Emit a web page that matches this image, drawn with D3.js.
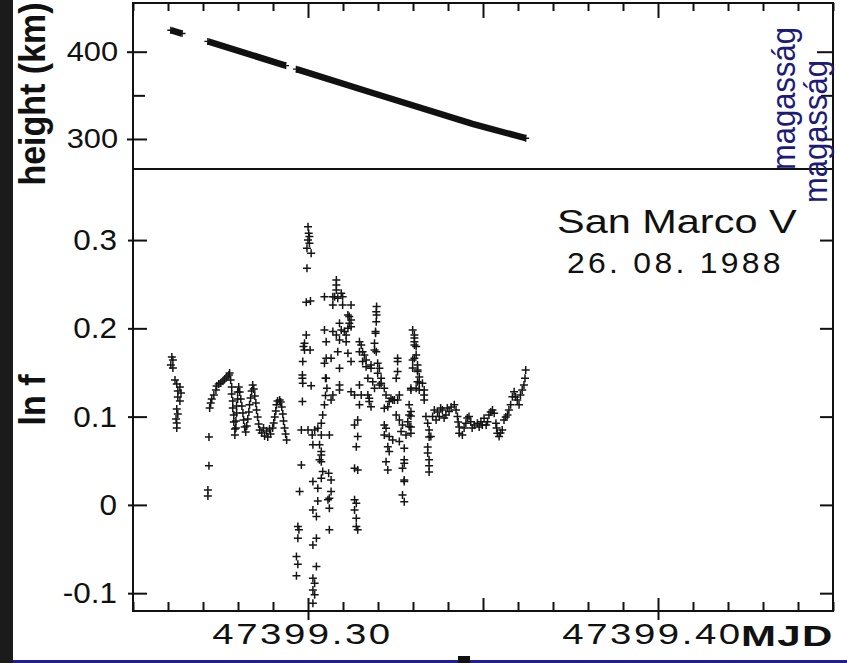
<!DOCTYPE html>
<html>
<head>
<meta charset="utf-8">
<script src="https://cdn.jsdelivr.net/npm/d3@7"></script>
<style>
  html, body { margin: 0; padding: 0; background: #fff; }
  svg { display: block; }
  text { font-family: "Liberation Sans", Arial, Helvetica, sans-serif; fill: #111; }
</style>
</head>
<body>
<svg id="chart" width="847" height="663"></svg>
<script>
// ---- data ---------------------------------------------------------------
// time axis (MJD) labels and axis tick values
const timeLabels = [47399.30, 47399.40];
const heightMajorTicks = [300, 400];
const heightMinorTicks = [350];
const lnfTicks = [-0.1, 0, 0.1, 0.2, 0.3];

// satellite height along the pass (null separates data gaps)
const heightMJD = [47399.2608, 47399.2640, null, 47399.2714, 47399.2936, null,
                   47399.2967, 47399.3185, 47399.3470, 47399.3622];
const heightKm  = [424.6, 420.8, null, 411.8, 384.1, null,
                   380.0, 352.7, 317.2, 300.9];

// ln f samples: [MJD, ln f]
const lnfSamples = [
  // first burst
  [47399.2611,0.1676],[47399.2614,0.1642],[47399.2608,0.1586],[47399.2614,0.1552],
  [47399.2620,0.1416],[47399.2625,0.1370],[47399.2634,0.1336],[47399.2628,0.1291],
  [47399.2637,0.1268],[47399.2628,0.1223],[47399.2634,0.1178],[47399.2625,0.1087],
  [47399.2628,0.1031],[47399.2623,0.0974],[47399.2625,0.0929],[47399.2625,0.0872],
  [47399.2717,0.0770],[47399.2717,0.0442],[47399.2714,0.0170],[47399.2714,0.0102],
  // oscillating stretch
  [47399.2719,0.1099],[47399.2722,0.1155],[47399.2725,0.1200],[47399.2731,0.1246],
  [47399.2737,0.1302],[47399.2739,0.1348],[47399.2745,0.1370],[47399.2751,0.1382],
  [47399.2757,0.1404],[47399.2762,0.1427],[47399.2768,0.1450],[47399.2774,0.1472],
  [47399.2776,0.1495],
  [47399.2779,0.1416],[47399.2782,0.1336],[47399.2782,0.1257],[47399.2785,0.1178],
  [47399.2785,0.1099],[47399.2788,0.1019],[47399.2788,0.0940],[47399.2791,0.0861],
  [47399.2791,0.0793],
  [47399.2794,0.0872],[47399.2794,0.0951],[47399.2796,0.1042],[47399.2796,0.1121],
  [47399.2799,0.1200],[47399.2799,0.1280],[47399.2802,0.1336],
  [47399.2805,0.1280],[47399.2808,0.1200],[47399.2811,0.1121],[47399.2814,0.1042],
  [47399.2816,0.0963],[47399.2819,0.0883],[47399.2822,0.0827],
  [47399.2825,0.0895],[47399.2828,0.0974],[47399.2831,0.1053],[47399.2833,0.1133],
  [47399.2836,0.1212],[47399.2839,0.1291],[47399.2842,0.1359],
  [47399.2845,0.1314],[47399.2848,0.1234],[47399.2851,0.1155],[47399.2853,0.1076],
  [47399.2856,0.0997],[47399.2859,0.0917],[47399.2862,0.0849],
  [47399.2868,0.0815],[47399.2873,0.0872],[47399.2876,0.0781],[47399.2882,0.0838],
  [47399.2885,0.0770],[47399.2890,0.0861],[47399.2893,0.0804],[47399.2899,0.0872],
  [47399.2902,0.0929],
  [47399.2905,0.0997],[47399.2908,0.1065],[47399.2910,0.1133],[47399.2913,0.1178],
  [47399.2919,0.1189],[47399.2922,0.1166],
  [47399.2925,0.1110],[47399.2928,0.1031],[47399.2930,0.0951],[47399.2933,0.0872],
  [47399.2936,0.0804],[47399.2939,0.0736],
  // disturbed stretch
  [47399.3000,0.3152],[47399.3002,0.3077],[47399.3004,0.3039],[47399.3000,0.3001],
  [47399.3004,0.2964],[47399.2997,0.2907],[47399.3009,0.2850],[47399.2997,0.2681],
  [47399.2995,0.2296],[47399.3007,0.2310],[47399.2995,0.1925],[47399.2990,0.1831],
  [47399.2987,0.1793],[47399.2990,0.1755],[47399.3006,0.1755],[47399.2985,0.1623],
  [47399.2984,0.1472],[47399.2984,0.1435],[47399.2985,0.1378],[47399.3009,0.1351],
  [47399.2984,0.1170],[47399.2981,0.0849],[47399.3000,0.0849],[47399.2981,0.0453],
  [47399.2976,0.0151],[47399.2971,-0.0246],[47399.2974,-0.0283],[47399.2971,-0.0377],
  [47399.2967,-0.0585],[47399.2971,-0.0672],[47399.2967,-0.0804],
  [47399.3019,0.0849],[47399.3012,0.0793],[47399.3028,0.0869],[47399.3038,0.0925],
  [47399.3042,0.1019],[47399.3047,0.1133],[47399.3050,0.1238],[47399.3054,0.1322],
  [47399.3050,0.1435],[47399.3038,0.0793],[47399.3061,0.0793],[47399.3014,0.0680],
  [47399.3033,0.0680],[47399.3038,0.0604],[47399.3038,0.0566],[47399.3033,0.0510],
  [47399.3038,0.0490],[47399.3042,0.0377],[47399.3059,0.0359],[47399.3066,0.0283],
  [47399.3014,0.0264],[47399.3038,0.0302],[47399.3028,0.0189],[47399.3066,0.0151],
  [47399.3061,0.0076],[47399.3057,0.0057],[47399.3028,0.0045],[47399.3061,-0.0037],
  [47399.3014,-0.0057],[47399.3024,-0.0132],[47399.3061,-0.0283],[47399.3024,-0.0377],
  [47399.3014,-0.0453],[47399.3024,-0.0699],[47399.3014,-0.0830],[47399.3019,-0.0887],
  [47399.3014,-0.0963],[47399.3019,-0.1019],[47399.3014,-0.1113],
  [47399.3047,0.2359],[47399.3071,0.2359],[47399.3081,0.2548],[47399.3081,0.2492],
  [47399.3081,0.2435],[47399.3076,0.2359],[47399.3085,0.2341],[47399.3095,0.2397],
  [47399.3099,0.2359],[47399.3099,0.2265],[47399.3123,0.2265],[47399.3071,0.2265],
  [47399.3047,0.1982],[47399.3052,0.1849],[47399.3071,0.1963],[47399.3090,0.2058],
  [47399.3095,0.1982],[47399.3104,0.1963],[47399.3109,0.1925],[47399.3114,0.2152],
  [47399.3118,0.2133],[47399.3123,0.2095],[47399.3118,0.2058],[47399.3123,0.2019],
  [47399.3114,0.2001],[47399.3109,0.1849],[47399.3090,0.1869],[47399.3081,0.1925],
  [47399.3052,0.1661],[47399.3047,0.1605],[47399.3066,0.1661],[47399.3085,0.1736],
  [47399.3090,0.1548],[47399.3114,0.1718],[47399.3123,0.1623],[47399.3052,0.1435],
  [47399.3090,0.1359],[47399.3090,0.1302],[47399.3071,0.1246],[47399.3066,0.1189],
  [47399.3123,0.1283],[47399.3133,0.1246],[47399.3147,0.1359],[47399.3152,0.1246],
  [47399.3147,0.1133],[47399.3133,0.0906],[47399.3142,0.0963],[47399.3142,0.0774],
  [47399.3138,0.0660],[47399.3133,0.0416],[47399.3142,0.0396],[47399.3133,0.0057],
  [47399.3138,0.0019],[47399.3133,-0.0057],[47399.3138,-0.0151],[47399.3138,-0.0246],
  [47399.3142,-0.0283],
  [47399.3147,0.1849],[47399.3152,0.1812],[47399.3147,0.1736],[47399.3156,0.1736],
  [47399.3161,0.1699],[47399.3156,0.1623],[47399.3166,0.1642],[47399.3166,0.1566],
  [47399.3180,0.1548],[47399.3180,0.1586],[47399.3171,0.1246],[47399.3175,0.1208],
  [47399.3175,0.1170],[47399.3180,0.1113],[47399.3190,0.1322],[47399.3185,0.1396],
  [47399.3171,0.1435],[47399.3190,0.1755],[47399.3195,0.1736],[47399.3195,0.2189],
  [47399.3196,0.2246],[47399.3196,0.2152],[47399.3195,0.2076],[47399.3193,0.1945],
  [47399.3190,0.1831],[47399.3193,0.1963],
  [47399.3199,0.1605],[47399.3204,0.1548],[47399.3199,0.1492],[47399.3209,0.1435],
  [47399.3209,0.1378],[47399.3204,0.1359],[47399.3218,0.1322],[47399.3223,0.1246],
  [47399.3232,0.1170],[47399.3218,0.1095],[47399.3228,0.1113],[47399.3237,0.1208],
  [47399.3242,0.1189],[47399.3247,0.1189],[47399.3218,0.0906],[47399.3223,0.0869],
  [47399.3218,0.0793],[47399.3232,0.0774],[47399.3242,0.0736],[47399.3228,0.0660],
  [47399.3232,0.0604],[47399.3223,0.0490],[47399.3228,0.0396],
  [47399.3256,0.1661],[47399.3256,0.1623],[47399.3256,0.1510],[47399.3252,0.1435],
  [47399.3261,0.1246],[47399.3256,0.1189],[47399.3252,0.1019],[47399.3261,0.0963],
  [47399.3270,0.0906],[47399.3266,0.0830],[47399.3261,0.0717],[47399.3275,0.0642],
  [47399.3275,0.0510],[47399.3275,0.0472],[47399.3270,0.0416],[47399.3275,0.0283],
  [47399.3275,0.0264],[47399.3270,0.0113],[47399.3275,0.0037],
  [47399.3285,0.0943],[47399.3289,0.0887],[47399.3289,0.1019],[47399.3294,0.1057],
  [47399.3289,0.1133],[47399.3280,0.0793],[47399.3294,0.0812],
  [47399.3299,0.1982],[47399.3304,0.1925],[47399.3304,0.1849],[47399.3309,0.1793],
  [47399.3304,0.1661],[47399.3313,0.1586],[47399.3313,0.1510],[47399.3313,0.1396],
  [47399.3294,0.1322],[47399.3309,0.1322],
  [47399.3304,0.1891],[47399.3304,0.1812],[47399.3309,0.1699],[47399.3299,0.1642],
  [47399.3299,0.1552],[47399.3313,0.1529],[47399.3318,0.1450],[47399.3318,0.1382],
  [47399.3318,0.1302],[47399.3327,0.1378],[47399.3332,0.1302],[47399.3332,0.1246],
  [47399.3332,0.1189],[47399.3294,0.1302],[47399.3294,0.1008],[47399.3294,0.0883],
  [47399.3337,0.1000],[47399.3342,0.0925],[47399.3346,0.0849],[47399.3346,0.0770],
  [47399.3351,0.0774],[47399.3342,0.0657],[47399.3342,0.0589],[47399.3346,0.0510],
  [47399.3346,0.0442],[47399.3346,0.0374],
  // quieter stretch towards the end of the pass
  [47399.3356,0.1000],[47399.3361,0.1076],[47399.3366,0.0963],[47399.3370,0.1053],
  [47399.3375,0.1000],[47399.3379,0.1099],[47399.3384,0.1076],[47399.3389,0.0985],
  [47399.3394,0.1019],[47399.3398,0.1099],[47399.3403,0.1057],[47399.3409,0.1110],
  [47399.3418,0.1133],[47399.3423,0.1076],[47399.3427,0.1000],[47399.3429,0.0940],
  [47399.3432,0.0883],[47399.3432,0.0812],[47399.3441,0.0793],[47399.3446,0.0872],
  [47399.3451,0.0925],[47399.3455,0.0985],[47399.3460,0.1000],[47399.3465,0.0943],
  [47399.3469,0.0872],[47399.3475,0.0906],[47399.3484,0.0925],[47399.3489,0.0883],
  [47399.3494,0.0943],[47399.3498,0.0906],[47399.3503,0.0982],[47399.3509,0.0906],
  [47399.3513,0.0943],[47399.3517,0.1019],[47399.3522,0.1053],[47399.3527,0.1076],
  [47399.3532,0.1038],[47399.3537,0.0925],[47399.3539,0.0872],[47399.3541,0.0812],
  [47399.3546,0.0774],[47399.3550,0.0815],[47399.3555,0.0849],[47399.3560,0.0963],
  [47399.3565,0.0997],[47399.3570,0.1019],[47399.3574,0.1076],[47399.3579,0.1133],
  [47399.3584,0.1226],[47399.3589,0.1283],[47399.3593,0.1223],[47399.3598,0.1189],
  [47399.3603,0.1133],[47399.3607,0.1246],[47399.3612,0.1302],[47399.3617,0.1359],
  [47399.3620,0.1435],[47399.3622,0.1529]
];

// ---- layout -------------------------------------------------------------
const svg = d3.select("#chart");
const L = 133, R = 833, T = 3, MID = 169, B = 611;

const x  = d3.scaleLinear().domain([47399.25, 47399.45]).range([L, R]);
const yH = d3.scaleLinear().domain([265.6, 455.8]).range([MID, T]);
const yF = d3.scaleLinear().domain([-0.1202, 0.3805]).range([B, MID]);

const near = (a, b) => Math.abs(a - b) < 1e-6;

// page decoration: dark strip on the left, blue rule at the bottom
svg.append("rect").attr("x", 0).attr("y", 0).attr("width", 13).attr("height", 663).attr("fill", "#1b1b1b");
svg.append("rect").attr("x", 13).attr("y", 660).attr("width", 834).attr("height", 3).attr("fill", "#1f1f8f");
svg.append("rect").attr("x", 458).attr("y", 656).attr("width", 12).attr("height", 7).attr("fill", "#111");

// widen glyphs horizontally, keeping the anchor position
function widen(sel, sx) {
  sel.each(function () {
    const t = d3.select(this);
    const x0 = +t.attr("x") || 0;
    t.attr("x", x0 / sx).attr("transform", `scale(${sx},1)`);
  });
}
function cleanAxis(g) {
  g.attr("font-size", null).attr("font-family", null);
  g.select(".domain").remove();
  g.selectAll(".tick line").attr("stroke", "#111").attr("stroke-width", 2);
}

// ---- height panel axes ----------------------------------------------------
const gHL = svg.append("g").attr("transform", `translate(${L},0)`)
  .call(d3.axisLeft(yH).tickValues(heightMajorTicks).tickSize(6).tickPadding(9).tickFormat(d3.format("d")))
  .call(cleanAxis);
gHL.selectAll(".tick line").attr("x1", 14);
gHL.selectAll(".tick text").attr("font-size", 28);
widen(gHL.selectAll(".tick text"), 1.1);

svg.append("g").attr("transform", `translate(${L},0)`)
  .call(d3.axisRight(yH).tickValues(heightMinorTicks).tickSize(12).tickFormat(""))
  .call(cleanAxis);

svg.append("g").attr("transform", `translate(${R},0)`)
  .call(d3.axisLeft(yH).tickValues(heightMajorTicks.concat(heightMinorTicks)).tickFormat(""))
  .call(cleanAxis)
  .selectAll(".tick line").attr("x2", d => heightMinorTicks.includes(d) ? -12 : -16);

// top time axis (ticks inward)
svg.append("g").attr("transform", `translate(0,${T})`)
  .call(d3.axisTop(x).ticks(20).tickFormat(""))
  .call(cleanAxis)
  .selectAll(".tick line")
  .attr("y2", d => [47399.30, 47399.35, 47399.40].some(v => near(v, d)) ? 15 : 8);

// ---- ln f panel axes -------------------------------------------------------
const gFL = svg.append("g").attr("transform", `translate(${L},0)`)
  .call(d3.axisLeft(yF).tickValues(lnfTicks).tickSize(5).tickPadding(11)
        .tickFormat(d => d === 0 ? "0" : d3.format(".1f")(d).replace("\u2212", "-")))
  .call(cleanAxis);
gFL.selectAll(".tick line").attr("x1", 14);
gFL.selectAll(".tick text").attr("font-size", 30);
widen(gFL.selectAll(".tick text"), 1.05);

svg.append("g").attr("transform", `translate(${R},0)`)
  .call(d3.axisLeft(yF).tickValues(lnfTicks).tickFormat(""))
  .call(cleanAxis)
  .selectAll(".tick line").attr("x2", -13);

// bottom time axis: inward minor ticks, crossing major ticks
svg.append("g").attr("transform", `translate(0,${B})`)
  .call(d3.axisBottom(x).ticks(20).tickFormat(""))
  .call(cleanAxis)
  .selectAll(".tick line")
  .attr("y1", d => timeLabels.some(v => near(v, d)) ? 9 : 0)
  .attr("y2", d => timeLabels.some(v => near(v, d)) || near(d, 47399.35) ? -13 : -9);

const gXB = svg.append("g").attr("transform", `translate(0,${B})`)
  .call(d3.axisBottom(x).tickValues(timeLabels).tickSize(0).tickPadding(12).tickFormat(d3.format(".2f")))
  .call(cleanAxis);
gXB.selectAll(".tick text").attr("font-size", 30).attr("letter-spacing", 2).attr("x", -6);
widen(gXB.selectAll(".tick text"), 1.28);

svg.append("text").attr("x", 741 / 1.4).attr("y", 646).attr("transform", "scale(1.4,1)")
  .attr("font-size", 30).attr("font-weight", "bold").attr("letter-spacing", 1)
  .text("MJD");

// ---- frame ------------------------------------------------------------------
svg.append("rect").attr("x", L).attr("y", T).attr("width", R - L).attr("height", B - T)
  .attr("fill", "none").attr("stroke", "#111").attr("stroke-width", 2);
svg.append("line").attr("x1", L).attr("x2", R).attr("y1", MID).attr("y2", MID)
  .attr("stroke", "#111").attr("stroke-width", 2);

// ---- axis titles --------------------------------------------------------------
svg.append("text").attr("transform", "translate(45,94) scale(1.1,1) rotate(-90)")
  .attr("text-anchor", "middle").attr("font-size", 34).attr("font-weight", "bold")
  .text("height (km)");
svg.append("text").attr("transform", "translate(45,400) scale(1.1,1) rotate(-90)")
  .attr("text-anchor", "middle").attr("font-size", 34).attr("font-weight", "bold")
  .text("ln f");

// ---- height track --------------------------------------------------------------
const heightPts = heightMJD.map((t, i) => ({ t, h: heightKm[i] }));
const heightLine = d3.line().defined(d => d.h != null).x(d => x(d.t)).y(d => yH(d.h));
svg.append("path").datum(heightPts).attr("d", heightLine)
  .attr("fill", "none").attr("stroke", "#111").attr("stroke-width", 6.5).attr("stroke-linecap", "butt");

// plus marks at the ends of every recorded stretch
const plus = s => `M${-s},0H${s}M0,${-s}V${s}`;
const segmentEnds = heightPts.filter((d, i) => d.h != null &&
  (i === 0 || i === heightPts.length - 1 || heightPts[i - 1].h == null || heightPts[i + 1].h == null));
svg.append("g").selectAll("path").data(segmentEnds).join("path")
  .attr("transform", d => `translate(${x(d.t)},${yH(d.h)})`)
  .attr("d", plus(3.5)).attr("stroke", "#111").attr("stroke-width", 1.4);

// ---- ln f scatter -----------------------------------------------------------------
svg.append("g").selectAll("path").data(lnfSamples).join("path")
  .attr("transform", d => `translate(${x(d[0])},${yF(d[1])})`)
  .attr("d", plus(4)).attr("stroke", "#151515").attr("stroke-width", 1.5);

// ---- annotations ------------------------------------------------------------------
svg.append("text").attr("x", 557 / 1.22).attr("y", 233).attr("transform", "scale(1.22,1)")
  .attr("font-size", 34).text("San Marco V");
svg.append("text").attr("x", 567 / 1.1).attr("y", 273).attr("transform", "scale(1.1,1)")
  .attr("font-size", 29).attr("letter-spacing", 3).text("26. 08. 1988");

svg.append("text").attr("transform", "translate(795,170) scale(1.1,1) rotate(-90)")
  .attr("font-size", 31).style("fill", "#1c1c78").text("magasság");
svg.append("text").attr("transform", "translate(827,203) scale(1.1,1) rotate(-90)")
  .attr("font-size", 31).style("fill", "#1c1c78").text("magasság");
</script>
</body>
</html>
